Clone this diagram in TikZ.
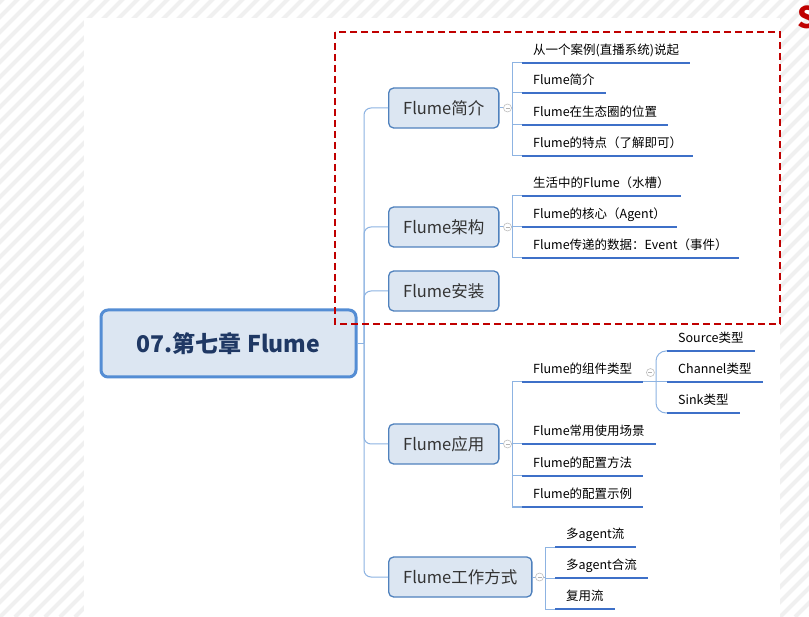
\documentclass[tikz,border=0pt]{standalone}
\usepackage{fontspec}
\setmainfont{Noto Sans CJK SC}
\definecolor{nodefill}{RGB}{220,230,242}
\definecolor{nodeline}{RGB}{79,129,189}
\definecolor{rootline}{RGB}{84,141,212}
\definecolor{twigline}{RGB}{141,179,226}
\definecolor{ulineblue}{RGB}{62,112,200}
\definecolor{framered}{RGB}{192,0,0}
\definecolor{roottext}{RGB}{31,56,100}
\begin{document}
\begin{tikzpicture}[x=1pt,y=-1pt,
	stripe/.style={black!6, line width=4pt},
	root/.style={draw=rootline, fill=nodefill, line width=3pt, rounded corners=7pt, minimum width=255pt, minimum height=67pt, text=roottext, font=\bfseries\fontsize{23}{27}\selectfont},
	branch/.style={draw=nodeline, fill=nodefill, line width=1.3pt, rounded corners=5pt, minimum height=40pt, inner xsep=14.5pt, anchor=west, text=black!80, font=\fontsize{16.5}{20}\selectfont},
	leaf/.style={anchor=south west, inner xsep=11pt, inner ysep=0pt, text height=10pt, text depth=8.5pt, text=black, font=\fontsize{12.5}{14}\selectfont},
	uline/.style={ulineblue, line width=2.5pt},
	trunk/.style={twigline, line width=1pt},
	fold/.style={circle, draw=black!25, line width=0.6pt, inner sep=0pt, minimum size=8pt, path picture={\draw[black!30, line width=0.5pt] ([xshift=-2pt]path picture bounding box.center) -- ([xshift=2pt]path picture bounding box.center);}},
	]
	\useasboundingbox (0,0) rectangle (809,617);
	% page background
	\foreach \i in {-630,-615,...,820}
		\draw[stripe] (\i,617) -- ++(640,-640);
	\fill[white] (84,18) rectangle (780,617);
	\node[anchor=north west, inner sep=0pt, text=framered, font=\bfseries\fontsize{30}{30}\selectfont] (logo) at (797,6) {S};

	\node[root] (root) at (228.5,343.5) {07.第七章 Flume};
	\node[branch] (b1) at (388,108) {Flume简介};
	\node[branch] (b2) at (388,227) {Flume架构};
	\node[branch] (b3) at (388,291) {Flume安装};
	\node[branch] (b4) at (388,444) {Flume应用};
	\node[branch] (b5) at (388,577) {Flume工作方式};

	\node[leaf] (a1) at (522,63) {从一个案例(直播系统)说起};
	\node[leaf] (a2) at (522,93) {Flume简介};
	\node[leaf] (a3) at (522,125) {Flume在生态圈的位置};
	\node[leaf] (a4) at (522,156) {Flume的特点（了解即可）};
	\node[leaf] (c1) at (522,196) {生活中的Flume（水槽）};
	\node[leaf] (c2) at (522,227) {Flume的核心（Agent）};
	\node[leaf] (c3) at (522,258) {Flume传递的数据：Event（事件）};
	\node[leaf] (d1) at (522,382) {Flume的组件类型};
	\node[leaf] (d2) at (522,444) {Flume常用使用场景};
	\node[leaf] (d3) at (522,476) {Flume的配置方法};
	\node[leaf] (d4) at (522,507) {Flume的配置示例};
	\node[leaf] (e1) at (667,351) {Source类型};
	\node[leaf] (e2) at (667,382) {Channel类型};
	\node[leaf] (e3) at (667,413) {Sink类型};
	\node[leaf] (f1) at (555,547) {多agent流};
	\node[leaf] (f2) at (555,578) {多agent合流};
	\node[leaf] (f3) at (555,609) {复用流};

	% main trunk
	\coordinate (tr) at (364,343.5);
	\draw[trunk] (root.east) -- (tr);
	\foreach \b in {b1,b2,b3,b4,b5}
		\draw[trunk, rounded corners=7pt] (tr) |- (\b.west);

	% sub trunks
	\coordinate (s1) at (512,108);
	\coordinate (s2) at (512,227);
	\coordinate (s4) at (512,444);
	\coordinate (s5) at (545,577);
	\coordinate (g) at (656,382);
	\draw[trunk] (b1.east) -- (s1);
	\draw[trunk] (b2.east) -- (s2);
	\draw[trunk] (b4.east) -- (s4);
	\draw[trunk] (b5.east) -- (s5);
	\foreach \n in {a1,a2,a3,a4}
		\draw[trunk] (s1) |- (\n.south west);
	\foreach \n in {c1,c2,c3}
		\draw[trunk] (s2) |- (\n.south west);
	\foreach \n in {d1,d2,d3,d4}
		\draw[trunk] (s4) |- (\n.south west);
	\foreach \n in {f1,f2,f3}
		\draw[trunk] (s5) |- (\n.south west);
	\draw[trunk] (d1.south east) -- (e2.south west);
	\draw[trunk, rounded corners=10pt] (g) |- (e1.south west);
	\draw[trunk, rounded corners=10pt] (g) |- (e3.south west);

	\foreach \n in {a1,a2,a3,a4,c1,c2,c3,d1,d2,d3,d4,e1,e2,e3,f1,f2,f3}
		\draw[uline] (\n.south west) -- (\n.south east);

	% fold buttons
	\node[fold, fill=white] (k1) at ([xshift=8pt]b1.east) {};
	\node[fold, fill=white] (k2) at ([xshift=8pt]b2.east) {};
	\node[fold, fill=white] (k4) at ([xshift=8pt]b4.east) {};
	\node[fold, fill=white] (k5) at ([xshift=7pt]b5.east) {};
	\node[fold, fill=white] (k6) at ([xshift=7pt]d1.east) {};

	\draw[framered, line width=2.6pt, dash pattern=on 7pt off 4pt] (335,32) rectangle (780,324);
\end{tikzpicture}
\end{document}
